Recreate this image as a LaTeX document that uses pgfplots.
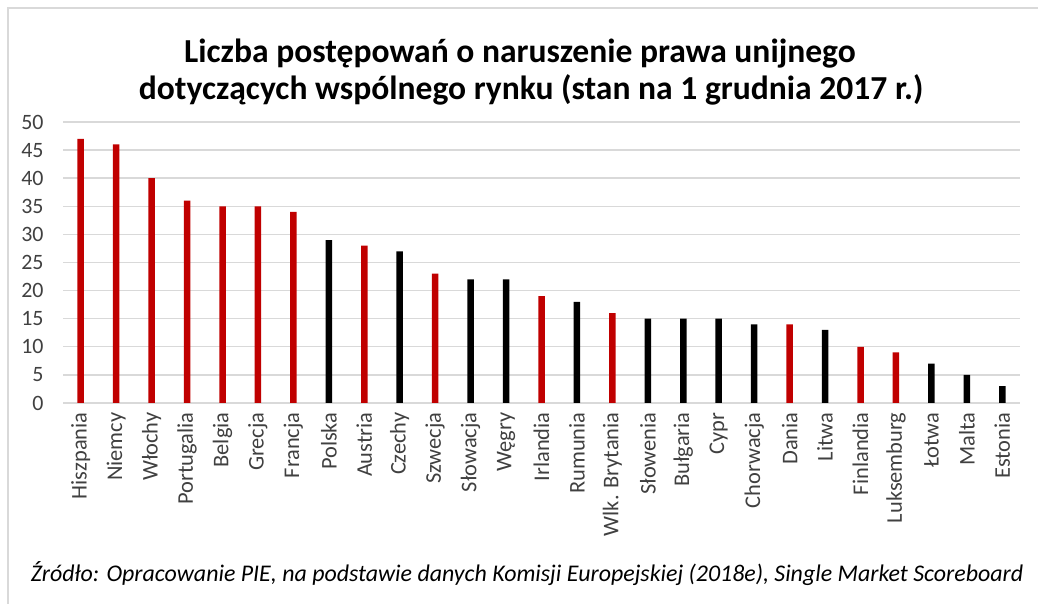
\documentclass[border=0pt]{standalone}
\usepackage{fontspec}
\setmainfont{Carlito}
\usepackage{pgfplots}
\pgfplotsset{compat=1.18}
\definecolor{barred}{HTML}{C00000}
\definecolor{gridgray}{HTML}{D9D9D9}
\definecolor{labgray}{HTML}{404040}
\begin{document}
\begin{tikzpicture}[x=1bp,y=1bp]
\path[use as bounding box] (0,0) rectangle (1038,604);
\draw[gridgray, line width=1.5bp] (8,0) -- (8,596) -- (1038,596);
\node[font=\fontsize{33.7}{40}\selectfont\bfseries, anchor=base, inner sep=0pt] at (520,541) {Liczba postępowań o naruszenie prawa unijnego};
\node[font=\fontsize{33.7}{40}\selectfont\bfseries, anchor=base, inner sep=0pt] at (531,504) {dotyczących wspólnego rynku (stan na 1 grudnia 2017 r.)};
\node[font=\fontsize{24}{28}\selectfont\itshape, anchor=base, inner sep=0pt] at (527,22) {Źródło: Opracowanie PIE, na podstawie danych Komisji Europejskiej (2018e), Single Market Scoreboard};
\begin{axis}[
  at={(63bp,201bp)}, anchor=south west,
  scale only axis, width=957bp, height=281bp,
  xmin=-0.5, xmax=26.5, ymin=0, ymax=50,
  ytick={0,5,...,50},
  xtick={0,...,26},
  xticklabels={Hiszpania,Niemcy,Włochy,Portugalia,Belgia,Grecja,Francja,Polska,Austria,Czechy,Szwecja,Słowacja,Węgry,Irlandia,Rumunia,Wlk. Brytania,Słowenia,Bułgaria,Cypr,Chorwacja,Dania,Litwa,Finlandia,Luksemburg,Łotwa,Malta,Estonia},
  axis line style={draw=none},
  major tick length=0pt,
  ymajorgrids,
  major grid style={gridgray, line width=1.4bp},
  /pgf/number format/assume math mode=true,
  yticklabel style={font=\fontsize{22}{26}\selectfont, text=labgray, anchor=east, xshift=-16bp},
  xticklabel style={font=\fontsize{22.5}{26}\selectfont, text=labgray, rotate=90, anchor=east, xshift=-6bp},
  ybar, bar shift=0pt, bar width=6.5bp,
]
\addplot[fill=barred, draw=none] coordinates {(0,47) (1,46) (2,40) (3,36) (4,35) (5,35) (6,34) (8,28) (10,23) (13,19) (15,16) (20,14) (22,10) (23,9)};
\addplot[fill=black, draw=none] coordinates {(7,29) (9,27) (11,22) (12,22) (14,18) (16,15) (17,15) (18,15) (19,14) (21,13) (24,7) (25,5) (26,3)};
\end{axis}
\end{tikzpicture}
\end{document}
